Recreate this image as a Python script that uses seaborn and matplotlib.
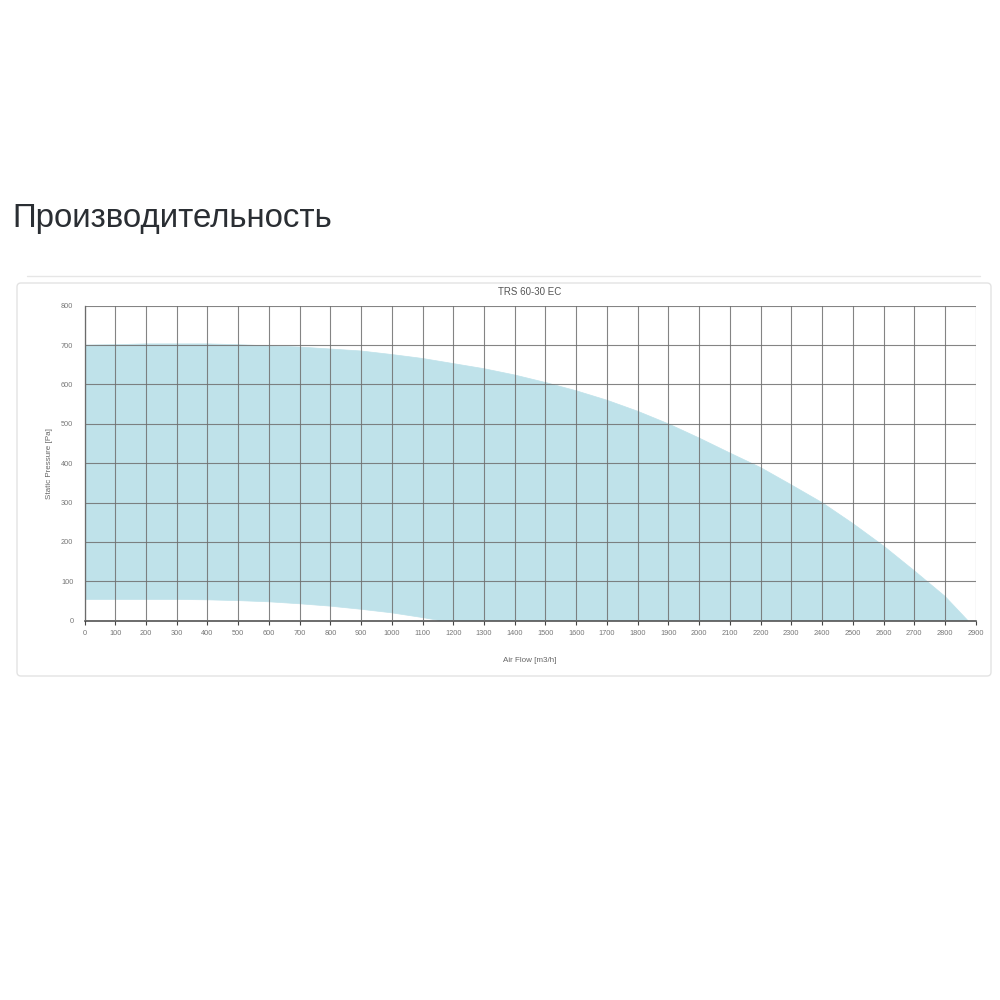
import numpy as np
import pandas as pd
import matplotlib
matplotlib.use("Agg")
import matplotlib.pyplot as plt
from matplotlib.patches import FancyBboxPatch
from matplotlib.lines import Line2D
import seaborn as sns

# ---- data ----
upper_flow = [0, 100, 200, 300, 400, 500, 600, 700, 800, 900, 1000, 1100, 1200, 1300,
              1400, 1500, 1600, 1700, 1800, 1900, 2000, 2100, 2200, 2300, 2400, 2500,
              2600, 2700, 2800, 2875]
upper_pressure = [700, 701, 703, 703, 703, 701, 698, 695, 690, 685, 676, 666, 653, 640,
                  624, 605, 584, 560, 532, 500, 464, 426, 389, 345, 300, 247,
                  190, 127, 62, 0]
lower_flow = [0, 100, 200, 300, 400, 500, 600, 700, 800, 900, 1000, 1100, 1160]
lower_pressure = [54, 54, 54, 54, 53, 51, 48, 43, 37, 29, 20, 8, 0]

x_ticks = list(range(0, 3000, 100))
y_ticks = list(range(0, 900, 100))

page_title = "Производительность"
chart_title = "TRS 60-30 EC"
x_label = "Air Flow [m3/h]"
y_label = "Static Pressure [Pa]"

fill_color = "#bfe2ea"

sns.set_theme(style="white")
plt.rcParams['font.family'] = ['DejaVu Sans']

fig = plt.figure(figsize=(10, 10), dpi=100)
fig.patch.set_facecolor("white")

# card frame (behind the axes)
card = FancyBboxPatch((0.017, 1 - 0.676), 0.974, 0.676 - 0.283,
                      boxstyle="round,pad=0,rounding_size=0.004",
                      transform=fig.transFigure, facecolor="white",
                      edgecolor="#e3e3e3", linewidth=1.0, zorder=-10)
fig.patches.append(card)
fig.lines.append(Line2D([0.027, 0.980], [1 - 0.276, 1 - 0.276],
                        transform=fig.transFigure, color="#e6e6e6", linewidth=1.0,
                        zorder=-10))

fig.text(0.012, 1 - 0.218, page_title, fontsize=23.8, color="#2a2e33",
         family=['Liberation Sans', 'DejaVu Sans'], va="center", ha="left")

ax = fig.add_axes([0.0845, 1 - 0.6207, 0.8912, 0.315])
ax.set_zorder(5)
ax.patch.set_alpha(0)

up = pd.DataFrame({"flow": upper_flow, "pressure": upper_pressure})
low = pd.DataFrame({"flow": lower_flow, "pressure": lower_pressure})
sns.lineplot(data=up, x="flow", y="pressure", ax=ax, color=fill_color, linewidth=0.5, zorder=1)
sns.lineplot(data=low, x="flow", y="pressure", ax=ax, color=fill_color, linewidth=0.5, zorder=1)
poly_x = np.concatenate([np.array(upper_flow), np.array(lower_flow)[::-1]])
poly_y = np.concatenate([np.array(upper_pressure), np.array(lower_pressure)[::-1]])
ax.fill(poly_x, poly_y, color=fill_color, linewidth=0, zorder=1)

ax.set_xlim(0, 2900)
ax.set_ylim(0, 800)
ax.set_xticks(x_ticks)
ax.set_yticks(y_ticks)
ax.set_xticklabels([str(v) for v in x_ticks], fontsize=5.3, color="#777777",
                   family=['Liberation Sans', 'DejaVu Sans'])
ax.set_yticklabels([str(v) for v in y_ticks], fontsize=5.3, color="#777777",
                   family=['Liberation Sans', 'DejaVu Sans'])
ax.grid(True, color="#6f6f6f", linewidth=0.8, alpha=0.85, zorder=2)
ax.set_axisbelow(False)
for side in ["top", "right"]:
    ax.spines[side].set_visible(False)
ax.spines["left"].set_color("#555555")
ax.spines["left"].set_linewidth(0.9)
ax.spines["bottom"].set_color("#444444")
ax.spines["bottom"].set_linewidth(1.1)
ax.tick_params(axis="x", which="both", bottom=True, length=3, width=0.8,
               color="#444444", pad=4)
ax.tick_params(axis="y", which="both", left=False, length=0, pad=8)

ax.set_xlabel(x_label, fontsize=5.8, color="#666666", labelpad=14,
              family=['Liberation Sans', 'DejaVu Sans'])
ax.set_ylabel(y_label, fontsize=5.8, color="#666666", labelpad=6,
              family=['Liberation Sans', 'DejaVu Sans'])
ax.set_title(chart_title, fontsize=7, color="#555555", pad=8,
             family=['Liberation Sans', 'DejaVu Sans'])

fig.savefig("out.png", dpi=100, facecolor="white")
